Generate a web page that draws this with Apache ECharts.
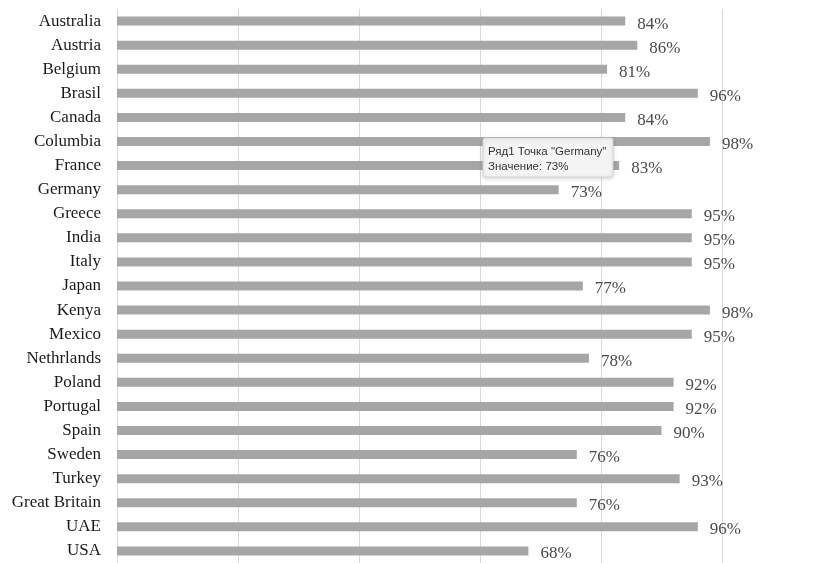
<!DOCTYPE html>
<html><head><meta charset="utf-8">
<script src="https://cdn.jsdelivr.net/npm/echarts@6/dist/echarts.min.js"></script>
<style>html,body{margin:0;padding:0;background:#fff}#c{width:835px;height:563px}</style>
</head><body><div id="c"></div>
<script>
var categories = ["Australia","Austria","Belgium","Brasil","Canada","Columbia","France","Germany","Greece","India","Italy","Japan","Kenya","Mexico","Nethrlands","Poland","Portugal","Spain","Sweden","Turkey","Great Britain","UAE","USA"];
var values = [0.84,0.86,0.81,0.96,0.84,0.98,0.83,0.73,0.95,0.95,0.95,0.77,0.98,0.95,0.78,0.92,0.92,0.90,0.76,0.93,0.76,0.96,0.68];
var tooltipLines = ['Ряд1 Точка "Germany"', 'Значение: 73%'];

var chart = echarts.init(document.getElementById('c'));
chart.setOption({
  animation: false,
  grid: {left: 117, width: 605, top: 9, height: 557, containLabel: false},
  xAxis: {
    type: 'value', min: 0, max: 1, interval: 0.2,
    axisLabel: {show: false}, axisLine: {show: false}, axisTick: {show: false},
    splitLine: {show: true, lineStyle: {color: '#d9d9d9', width: 1}}
  },
  yAxis: {
    type: 'category', data: categories, inverse: true,
    axisLine: {show: false}, axisTick: {show: false},
    axisLabel: {fontFamily: 'Liberation Serif', fontSize: 17, color: '#1a1a1a', margin: 16}
  },
  series: [{
    type: 'bar', data: values, barWidth: 9,
    itemStyle: {color: '#a6a6a6'},
    label: {
      show: true, position: 'right', distance: 12, offset: [0, 3],
      fontFamily: 'Liberation Serif', fontSize: 17, color: '#4a4a4a',
      formatter: function(p){ return Math.round(p.value*100) + '%'; }
    }
  }],
  graphic: [
    {type: 'rect', x: 483, y: 138, z: 100, zlevel: 1, shape: {x: 0, y: 0, width: 130, height: 39, r: 2},
     style: {fill: '#f4f4f4', stroke: '#d4d4d4', lineWidth: 1, shadowBlur: 4, shadowColor: 'rgba(0,0,0,0.18)', shadowOffsetY: 1}},
    {type: 'text', x: 488, y: 146, z: 101, zlevel: 1, style: {text: tooltipLines[0], fontFamily: 'Liberation Sans', fontSize: 11.5, fill: '#333'}},
    {type: 'text', x: 488, y: 161, z: 101, zlevel: 1, style: {text: tooltipLines[1], fontFamily: 'Liberation Sans', fontSize: 11.5, fill: '#333'}}
  ]
});
</script></body></html>
